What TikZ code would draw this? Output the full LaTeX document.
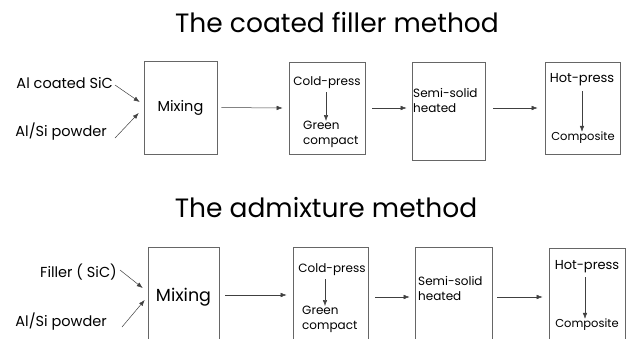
\documentclass[tikz,border=0pt]{standalone}
\usepackage{fontspec}
\setmainfont{Poppins}
\usetikzlibrary{arrows.meta,positioning}

\begin{document}
\begin{tikzpicture}[x=1pt,y=-1pt,
    box/.style={draw=black!60,line width=0.6pt,inner sep=0pt},
    arr/.style={-{Latex[length=6pt,width=4.5pt]},draw=black!75,line width=0.5pt},
    title/.style={font=\fontsize{26.5}{30}\selectfont,inner sep=0pt},
    lbl/.style={font=\fontsize{14.5}{16}\selectfont,inner sep=0pt},
    txt/.style={font=\fontsize{12}{15}\selectfont,inner sep=0pt,align=left},
    hot/.style={font=\fontsize{13}{15}\selectfont,inner sep=0pt}]
  \clip (0,0) rectangle (626,338);

  % the coated filler method
  \node[title] (titleA) at (337,22) {The coated filler method};
  \node[lbl,anchor=east] (inA1) at (113,83) {Al coated SiC};
  \node[lbl,anchor=east] (inA2) at (107,132) {Al/Si powder};
  \node[box,minimum width=73pt,minimum height=93pt,font=\fontsize{14.5}{18}\selectfont] (mixA) at (180.5,107.5) {Mixing};
  \node[box,minimum width=76pt,minimum height=92pt] (coldA) at (327,108) {};
  \node[box,minimum width=73pt,minimum height=98pt] (semiA) at (448.5,111) {};
  \node[box,minimum width=75pt,minimum height=92pt] (hotA) at (582.5,108) {};
  \node[txt] (cpA) at (327,83) {Cold-press};
  \node[txt,anchor=north west] (gcA) at (303,121) {Green\\compact};
  \node[txt,anchor=north west] (ssA) at (413,88) {Semi-solid\\heated};
  \node[hot] (hpA) at (582,80) {Hot-press};
  \node[txt,font=\fontsize{11.5}{15}\selectfont] (coA) at (583,138) {Composite};

  \draw[arr] ([xshift=2pt,yshift=-2pt]inA1.east) -- ([xshift=-4pt,yshift=5.5pt]mixA.west);
  \draw[arr] ([xshift=8pt,yshift=-6pt]inA2.east) -- ([xshift=-5pt,yshift=-5.5pt]mixA.west);
  \draw[arr] ([xshift=4pt]mixA.east) -- ([xshift=-6pt]coldA.west);
  \draw[arr] ([xshift=7pt]coldA.east) -- ([xshift=-5pt]semiA.west |- coldA.east);
  \draw[arr] ([xshift=8pt]semiA.east |- coldA.east) -- ([xshift=-7pt]hotA.west);
  \draw[arr] ([xshift=-1pt,yshift=-3pt]cpA.south) -- ([xshift=-1pt]cpA.south |- gcA.north);
  \draw[arr] ([yshift=-5pt]hpA.south) -- (hpA.south |- coA.north);

  % the admixture method
  \node[title] (titleB) at (326,208) {The admixture method};
  \node[lbl,anchor=east] (inB1) at (117,272) {Filler ( SiC)};
  \node[lbl,anchor=east] (inB2) at (107,322) {Al/Si powder};
  \node[box,minimum width=71pt,minimum height=100pt,font=\fontsize{17.5}{21}\selectfont] (mixB) at (183.5,297) {Mixing};
  \node[box,minimum width=75pt,minimum height=100pt] (coldB) at (330.5,297) {};
  \node[box,minimum width=77pt,minimum height=100pt] (semiB) at (453.5,297) {};
  \node[box,minimum width=76pt,minimum height=100pt] (hotB) at (587,298) {};
  \node[txt] (cpB) at (332,270) {Cold-press};
  \node[txt,anchor=north west] (gcB) at (302,306) {Green\\compact};
  \node[txt,anchor=north west] (ssB) at (418,276) {Semi-solid\\heated};
  \node[hot] (hpB) at (587,267) {Hot-press};
  \node[txt,font=\fontsize{11.5}{15}\selectfont] (coB) at (587,325) {Composite};

  \draw[arr] ([xshift=3pt,yshift=2pt]inB1.east) -- ([xshift=-5pt,yshift=9pt]mixB.west);
  \draw[arr] ([xshift=15pt,yshift=-5pt]inB2.east) -- ([xshift=-3pt,yshift=-3pt]mixB.west);
  \draw[arr] ([xshift=6pt,yshift=2pt]mixB.east) -- ([xshift=-6pt,yshift=2pt]coldB.west);
  \draw[arr] ([xshift=7pt]coldB.east) -- ([xshift=-5pt]semiB.west);
  \draw[arr] ([xshift=5pt]semiB.east) -- ([xshift=-6pt]hotB.west |- semiB.east);
  \draw[arr] ([xshift=-7pt,yshift=-3pt]cpB.south) -- ([xshift=-7pt]cpB.south |- gcB.north);
  \draw[arr] ([xshift=-2pt,yshift=-4pt]hpB.south) -- ([xshift=-2pt]hpB.south |- coB.north);
\end{tikzpicture}
\end{document}
